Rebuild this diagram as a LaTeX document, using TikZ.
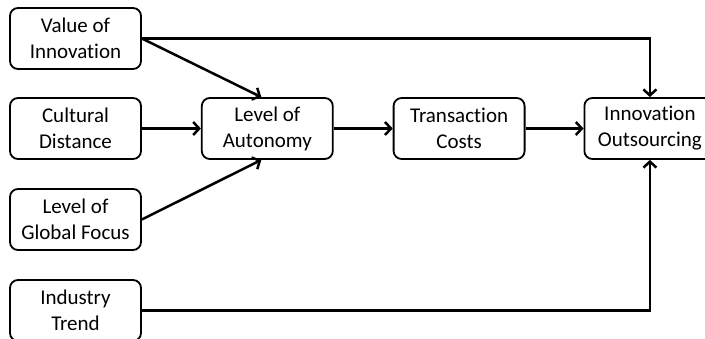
\documentclass[tikz,border=0pt]{standalone}
\usepackage{fontspec}
\setmainfont[Ligatures=NoCommon]{Carlito}
\usetikzlibrary{arrows.meta,positioning}

\begin{document}
\begin{tikzpicture}[x=1pt, y=-1pt,
    block/.style={rectangle, draw=black, line width=1.8pt, rounded corners=8pt,
    minimum width=131pt, minimum height=61pt, inner sep=0pt,
    align=center, font=\fontsize{21}{26}\selectfont},
    link/.style={line width=2.5pt, -{Straight Barb[length=6pt,width=13pt]}}]
    \useasboundingbox (0,0) rectangle (705,339);
    \clip (0,0) rectangle (705,339);

    \node (value) [block] at (75.5,38.5) {Value of\\Innovation};
    \node (cultural) [block] at (75.5,128.5) {Cultural\\Distance};
    \node (focus) [block] at (75.5,219.5) {Level of\\Global Focus};
    \node (trend) [block] at (75.5,310.5) {Industry\\Trend};

    \node (autonomy) [block, right=59pt of cultural] {Level of\\Autonomy};
    \node (costs) [block, right=59pt of autonomy] {Transaction\\Costs};
    \node (outsourcing) [block, right=58pt of costs] {Innovation\\Outsourcing};

    \draw [link] (value.east) -- ([xshift=-6pt]autonomy.north);
    \draw [link] (cultural) -- (autonomy);
    \draw [link] (focus.east) -- ([xshift=-6pt]autonomy.south);
    \draw [link] (autonomy) -- (costs);
    \draw [link] (costs) -- (outsourcing);
    \draw [link] (value.east) -| (outsourcing.north);
    \draw [link] (trend.east) -| (outsourcing.south);
\end{tikzpicture}
\end{document}
